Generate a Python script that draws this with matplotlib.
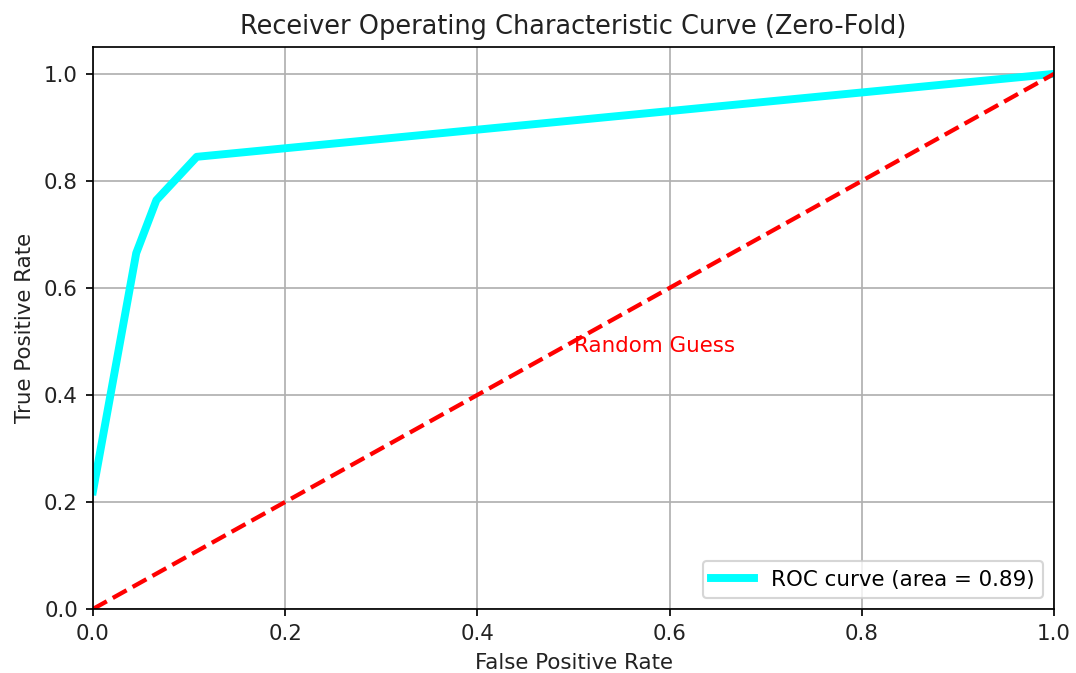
import matplotlib
matplotlib.use("Agg")
import matplotlib.pyplot as plt

fpr = [0.0, 0.045, 0.066, 0.108, 1.0]
tpr = [0.22, 0.665, 0.764, 0.845, 1.0]
diag_x = [0, 1]
diag_y = [0, 1]
roc_auc = 0.89

DPI = 154
fig = plt.figure(figsize=(1076 / DPI, 673 / DPI), dpi=DPI)
ax = fig.add_axes([0.0864, 0.0951, 0.8932, 0.8349])
ax.plot(fpr, tpr, color="cyan", lw=3.7, label="ROC curve (area = %0.2f)" % roc_auc)
ax.plot(diag_x, diag_y, color="red", lw=2, linestyle="--")
ax.text(0.5, 0.48, "Random Guess", color="red", fontsize=10)
ax.set_xlim(0.0, 1.0)
ax.set_ylim(0.0, 1.05)
ax.set_xlabel("False Positive Rate", color="#222222")
ax.set_ylabel("True Positive Rate", color="#222222")
ax.set_title("Receiver Operating Characteristic Curve (Zero-Fold)", color="#222222")
ax.tick_params(labelcolor="#222222")
ax.grid(True)
ax.legend(loc="lower right")
fig.savefig("out.png", dpi=DPI)
